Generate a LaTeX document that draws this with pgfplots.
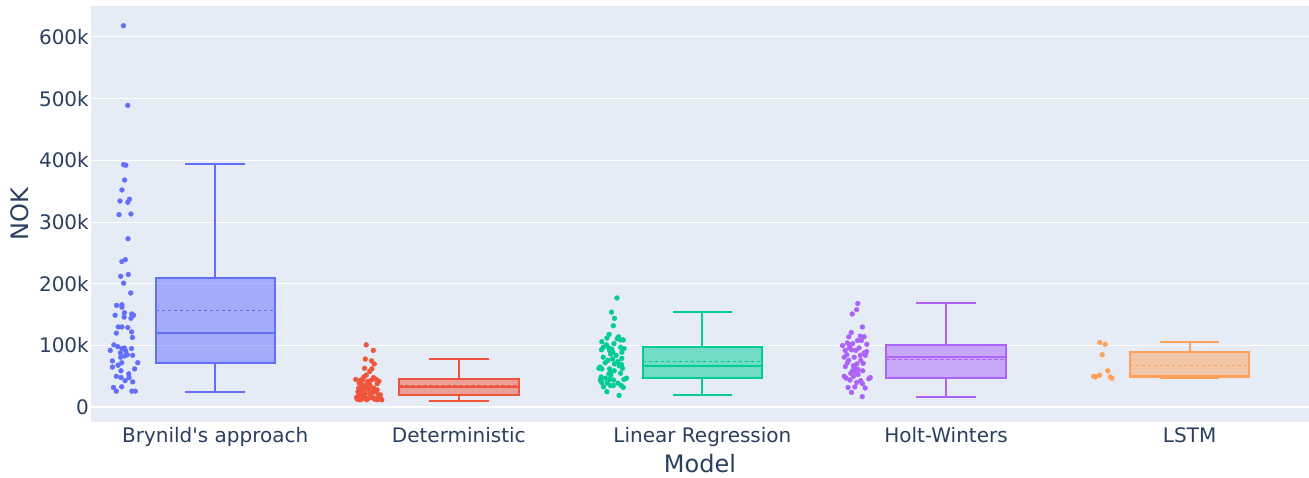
\documentclass[border=0pt]{standalone}
\usepackage{pgfplots}
\pgfplotsset{compat=1.18}
\usepgfplotslibrary{statistics}
\usepackage{fontspec}
\setmainfont{DejaVu Sans}

\definecolor{bg}{HTML}{E5ECF6}
\definecolor{txt}{HTML}{2A3F5F}
\definecolor{c0}{HTML}{636EFA}
\definecolor{c1}{HTML}{EF553B}
\definecolor{c2}{HTML}{00CC96}
\definecolor{c3}{HTML}{AB63FA}
\definecolor{c4}{HTML}{FFA15A}

% box / mean / points styles
\pgfplotsset{
    mybox/.style={solid, draw=#1, fill=#1, fill opacity=0.5, draw opacity=1, line width=2pt,
        boxplot/every box/.append style={line width=2pt},
        boxplot/every whisker/.append style={line width=2pt},
        boxplot/every median/.append style={line width=2pt}},
    mymean/.style={#1, line width=1.3pt, dash pattern=on 3.5pt off 2.5pt},
    mypts/.style={only marks, mark=*, mark size=2.4pt, color=#1, mark options={solid, fill=#1}},
}

\begin{document}
\begin{tikzpicture}
\begin{axis}[
    at={(0,0)}, anchor=south west,
    width=1218pt, height=416pt, scale only axis,
    xmin=-0.51, xmax=4.49,
    ymin=-24000, ymax=650000,
    xtick={0,1,2,3,4},
    xticklabels={Brynild\textquotesingle s approach,Deterministic,Linear Regression,Holt-Winters,LSTM},
    ytick={0,100000,200000,300000,400000,500000,600000},
    yticklabels={0,100k,200k,300k,400k,500k,600k},
    scaled y ticks=false,
    ymajorgrids,
    grid style={white, line width=1pt},
    extra y ticks={0}, extra y tick labels={},
    extra y tick style={grid style={white, line width=2.2pt}},
    axis background/.style={fill=bg},
    axis line style={draw=none},
    major tick length=0pt,
    /pgf/number format/assume math mode=true,
    tick label style={font=\fontsize{20}{24}\selectfont, text=txt},
    yticklabel style={anchor=east, inner sep=0pt, xshift=-2pt},
    xticklabel style={anchor=north, inner sep=0pt, yshift=-5pt},
    xlabel={Model}, ylabel={NOK},
    label style={font=\fontsize{24}{28}\selectfont, text=txt},
    xlabel style={at={(axis description cs:0.5,-0.121)}, anchor=base, inner sep=0pt},
    ylabel style={at={(axis description cs:-0.0583,0.5)}, anchor=center},
    boxplot/draw direction=y,
    boxplot/box extend=0.49,
    boxplot/whisker extend=0.245,
]

% ---- Brynild's approach
\addplot[mybox=c0, boxplot prepared={draw position=0,
    lower whisker=25000, lower quartile=72000, median=120000,
    upper quartile=209000, upper whisker=394000}] coordinates {};
\addplot[mymean=c0] coordinates {(-0.245,157000) (0.245,157000)};
\addplot[mypts=c0] table {
x y
-0.377 618000
-0.359 489000
-0.376 393000
-0.367 392000
-0.372 368000
-0.383 352000
-0.391 334000
-0.352 337000
-0.359 332000
-0.395 312000
-0.346 313000
-0.358 273000
-0.383 236000
-0.369 239000
-0.388 212000
-0.357 215000
-0.376 201000
-0.347 185000
-0.405 165000
-0.383 166000
-0.383 162000
-0.411 149000
-0.373 153000
-0.374 146000
-0.343 151000
-0.335 149000
-0.346 144000
-0.398 130000
-0.383 130000
-0.359 129000
-0.406 120000
-0.343 122000
-0.340 113000
-0.416 101000
-0.400 98000
-0.431 92000
-0.383 95000
-0.373 96000
-0.344 95000
-0.389 88000
-0.367 91000
-0.388 81000
-0.372 83000
-0.361 85000
-0.339 84000
-0.422 75000
-0.384 72000
-0.318 72000
-0.422 65000
-0.399 68000
-0.331 62000
-0.387 59000
-0.406 50000
-0.387 48000
-0.355 54000
-0.354 48000
-0.370 43000
-0.339 41000
-0.418 32000
-0.384 33000
-0.406 26000
-0.342 26000
-0.328 26000
};

% ---- Deterministic
\addplot[mybox=c1, boxplot prepared={draw position=1,
    lower whisker=10000, lower quartile=20000, median=32000,
    upper quartile=45000, upper whisker=78000}] coordinates {};
\addplot[mymean=c1] coordinates {(0.755,35000) (1.245,35000)};
\addplot[mypts=c1] table {
x y
0.620 101000
0.649 92000
0.616 78000
0.642 75000
0.653 70000
0.613 63000
0.643 62000
0.634 58000
0.577 45000
0.610 49000
0.620 52000
0.606 44000
0.650 48000
0.661 45000
0.672 42000
0.665 38000
0.591 39000
0.598 32000
0.586 25000
0.609 28000
0.624 31000
0.631 28000
0.639 29000
0.651 31000
0.657 26000
0.669 20000
0.678 20000
0.591 20000
0.580 16000
0.583 13000
0.602 13000
0.612 17000
0.619 15000
0.628 14000
0.641 16000
0.650 15000
0.664 12000
0.679 13000
0.684 12000
0.595 24000
0.616 22000
0.635 22000
0.604 36000
0.627 42000
0.642 44000
0.594 12000
0.621 12000
0.654 13000
0.672 16000
0.610 34000
0.635 36000
0.589 31000
0.647 24000
0.605 19000
0.665 28000
0.624 39000
0.597 44000
};

% ---- Linear Regression
\addplot[mybox=c2, boxplot prepared={draw position=2,
    lower whisker=19000, lower quartile=47000, median=67000,
    upper quartile=97000, upper whisker=154000}] coordinates {};
\addplot[mymean=c2] coordinates {(1.755,74000) (2.245,74000)};
\addplot[mypts=c2] table {
x y
1.649 177000
1.627 154000
1.639 144000
1.634 132000
1.617 118000
1.608 112000
1.587 106000
1.656 114000
1.664 109000
1.675 109000
1.637 103000
1.606 101000
1.650 111000
1.593 97000
1.616 96000
1.664 97000
1.678 95000
1.586 93000
1.628 94000
1.619 92000
1.632 89000
1.669 89000
1.593 81000
1.612 76000
1.631 78000
1.653 74000
1.669 79000
1.668 69000
1.672 63000
1.580 65000
1.587 62000
1.575 63000
1.619 62000
1.626 58000
1.638 59000
1.616 54000
1.624 52000
1.664 55000
1.584 49000
1.602 47000
1.619 45000
1.581 44000
1.587 40000
1.609 39000
1.635 44000
1.653 39000
1.667 35000
1.675 32000
1.678 45000
1.688 47000
1.594 33000
1.623 35000
1.634 35000
1.608 25000
1.658 19000
1.639 70000
1.601 72000
1.646 84000
1.659 67000
1.623 86000
};

% ---- Holt-Winters
\addplot[mybox=c3, boxplot prepared={draw position=3,
    lower whisker=17000, lower quartile=47000, median=81000,
    upper quartile=101000, upper whisker=168000}] coordinates {};
\addplot[mymean=c3] coordinates {(2.755,77000) (3.245,77000)};
\addplot[mypts=c3] table {
x y
2.638 168000
2.633 158000
2.615 151000
2.657 130000
2.611 121000
2.601 114000
2.648 115000
2.664 114000
2.595 104000
2.617 103000
2.637 108000
2.653 108000
2.675 102000
2.575 100000
2.606 100000
2.586 92000
2.612 93000
2.630 92000
2.674 90000
2.593 85000
2.648 84000
2.669 84000
2.582 81000
2.601 76000
2.623 81000
2.587 66000
2.620 67000
2.634 70000
2.626 63000
2.660 71000
2.639 61000
2.616 59000
2.658 59000
2.630 57000
2.582 50000
2.590 47000
2.620 50000
2.606 44000
2.634 40000
2.650 43000
2.657 38000
2.683 46000
2.689 48000
2.626 33000
2.598 32000
2.668 31000
2.612 24000
2.656 17000
2.604 96000
2.643 96000
2.595 72000
2.650 76000
2.609 55000
2.639 53000
2.623 65000
2.664 88000
};

% ---- LSTM
\addplot[mybox=c4, boxplot prepared={draw position=4,
    lower whisker=48000, lower quartile=49000, median=50000,
    upper quartile=89000, upper whisker=105000}] coordinates {};
\addplot[mymean=c4] coordinates {(3.755,67000) (4.245,67000)};
\addplot[mypts=c4] table {
x y
3.631 105000
3.653 102000
3.641 85000
3.664 59000
3.605 50000
3.613 49000
3.631 52000
3.674 49000
3.681 47000
};

\end{axis}
\pgfresetboundingbox
\path[use as bounding box] (-91pt,-55pt) rectangle (1218pt,422pt);
\end{tikzpicture}
\end{document}
